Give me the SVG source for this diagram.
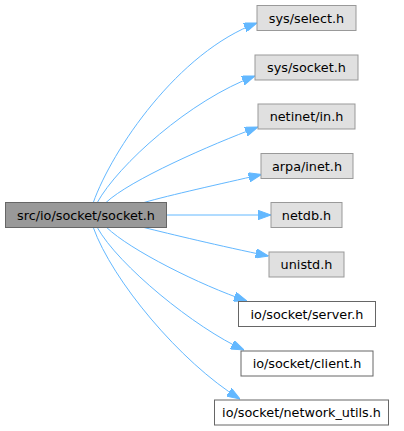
<svg xmlns="http://www.w3.org/2000/svg" width="404" height="431" viewBox="0 0 404 431">
<style>
  .lbl{font-family:"DejaVu Sans","Liberation Sans",sans-serif;font-size:12.8px;fill:#000;text-anchor:middle}
  .main rect{fill:#999999;stroke:#666666;stroke-width:1}
  .sys rect{fill:#e0e0e0;stroke:#999999;stroke-width:1}
  .proj rect{fill:#ffffff;stroke:#666666;stroke-width:1}
  .edge{fill:none;stroke:#63b8ff;stroke-width:1;marker-end:url(#arr)}
</style>
<defs>
  <marker id="arr" viewBox="0 0 13 9.4" refX="13" refY="4.7" markerWidth="13" markerHeight="9.4" markerUnits="userSpaceOnUse" orient="auto">
    <path d="M0,0 L13,4.7 L0,9.4 z" fill="#63b8ff" stroke="#63b8ff" stroke-width="1"/>
  </marker>
</defs>
<rect width="404" height="431" fill="#ffffff"/>
<g id="edges">
  <path class="edge" d="M93.3,202.5 C112,150 178,52 257,23"/>
  <path class="edge" d="M97.3,202.5 C118,165 190,100 255,76"/>
  <path class="edge" d="M106,202.5 C130,180 210,145 258,127"/>
  <path class="edge" d="M144,202.5 C170,195 220,184 261.5,174.5"/>
  <path class="edge" d="M166.5,215 L271,215"/>
  <path class="edge" d="M144,227.5 C170,234 220,246 268.5,256"/>
  <path class="edge" d="M106.7,227.5 C130,250 200,285 247,301"/>
  <path class="edge" d="M97.3,227.5 C118,265 195,328 244,350"/>
  <path class="edge" d="M93.3,227.5 C112,280 180,362 240,399"/>
</g>
<g id="node-main" class="main"><rect x="5.5" y="202.5" width="161" height="25"/><text class="lbl" x="86" y="219.5">src/io/socket/socket.h</text></g>
<g id="node-sys-select" class="sys"><rect x="257" y="5.5" width="99" height="25"/><text class="lbl" x="306.5" y="22.5">sys/select.h</text></g>
<g id="node-sys-socket" class="sys"><rect x="255" y="55" width="103" height="25"/><text class="lbl" x="306.5" y="72">sys/socket.h</text></g>
<g id="node-netinet-in" class="sys"><rect x="258" y="104" width="97" height="25"/><text class="lbl" x="306.5" y="121">netinet/in.h</text></g>
<g id="node-arpa-inet" class="sys"><rect x="261" y="153.5" width="92" height="25"/><text class="lbl" x="307" y="170.5">arpa/inet.h</text></g>
<g id="node-netdb" class="sys"><rect x="271" y="202.5" width="71" height="25"/><text class="lbl" x="306.5" y="219.5">netdb.h</text></g>
<g id="node-unistd" class="sys"><rect x="269" y="252" width="75" height="25"/><text class="lbl" x="306.5" y="269">unistd.h</text></g>
<g id="node-server" class="proj"><rect x="238.5" y="301.5" width="137" height="25"/><text class="lbl" x="307" y="318.5">io/socket/server.h</text></g>
<g id="node-client" class="proj"><rect x="241" y="351" width="132" height="25"/><text class="lbl" x="307" y="368">io/socket/client.h</text></g>
<g id="node-network-utils" class="proj"><rect x="214.5" y="400" width="174" height="25"/><text class="lbl" x="301.5" y="417">io/socket/network_utils.h</text></g>
</svg>
